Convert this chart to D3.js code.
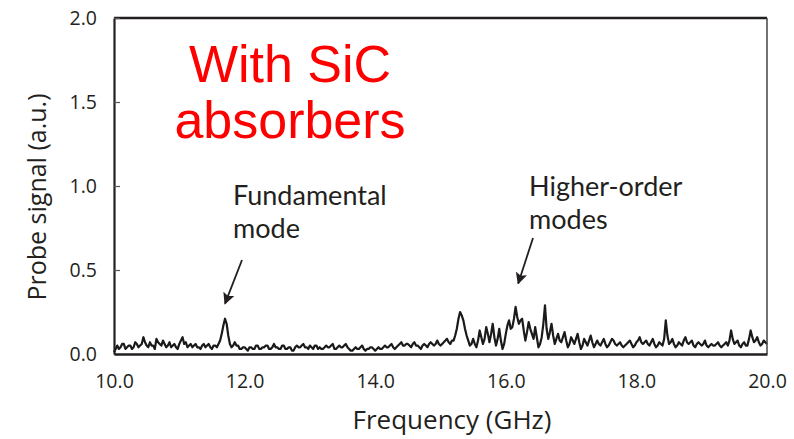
<!DOCTYPE html>
<html>
<head>
<meta charset="utf-8">
<script src="https://cdn.jsdelivr.net/npm/d3@7/dist/d3.min.js"></script>
<style>
  html, body { margin: 0; padding: 0; background: #fff; }
  svg { display: block; }
  text { font-family: "Open Sans", "Noto Sans", sans-serif; fill: #231f20; }
</style>
</head>
<body>
<svg id="chart" width="794" height="439"></svg>
<script>
// Probe signal sampled every 0.025 GHz from 10.0 to 20.0 GHz (one row = 0.5 GHz)
const freqStart = 10.0;
const freqStep = 0.025;
const signal = [
  0.01,0.03,0.05,0.03,0.04,0.06,0.06,0.03,0.04,0.05,0.05,0.03,0.04,0.07,0.06,0.04,0.05,0.06,0.10,0.07,
  0.05,0.04,0.07,0.05,0.05,0.03,0.09,0.07,0.06,0.05,0.08,0.06,0.04,0.05,0.07,0.04,0.05,0.06,0.04,0.03,
  0.06,0.08,0.10,0.06,0.07,0.04,0.05,0.06,0.04,0.05,0.06,0.04,0.04,0.03,0.05,0.06,0.04,0.05,0.06,0.04,
  0.03,0.05,0.05,0.04,0.06,0.08,0.12,0.17,0.21,0.18,0.11,0.06,0.04,0.05,0.07,0.05,0.05,0.03,0.03,0.04,
  0.04,0.03,0.02,0.04,0.04,0.03,0.03,0.05,0.05,0.03,0.03,0.04,0.04,0.05,0.05,0.03,0.03,0.04,0.06,0.04,
  0.04,0.03,0.03,0.05,0.05,0.03,0.03,0.04,0.04,0.02,0.02,0.04,0.05,0.04,0.04,0.05,0.06,0.04,0.04,0.03,
  0.05,0.04,0.03,0.05,0.05,0.03,0.04,0.03,0.03,0.04,0.05,0.04,0.04,0.05,0.06,0.03,0.03,0.04,0.05,0.04,
  0.04,0.05,0.06,0.04,0.03,0.02,0.02,0.03,0.04,0.03,0.03,0.04,0.05,0.03,0.02,0.03,0.03,0.04,0.04,0.03,
  0.02,0.03,0.04,0.03,0.03,0.04,0.05,0.04,0.04,0.05,0.06,0.04,0.03,0.04,0.05,0.06,0.07,0.05,0.05,0.06,
  0.06,0.05,0.04,0.06,0.07,0.05,0.05,0.04,0.03,0.05,0.06,0.05,0.04,0.06,0.07,0.06,0.05,0.06,0.08,0.06,
  0.05,0.06,0.07,0.08,0.09,0.07,0.06,0.08,0.08,0.11,0.15,0.21,0.25,0.23,0.20,0.15,0.11,0.08,0.05,0.06,
  0.09,0.06,0.04,0.08,0.14,0.10,0.06,0.09,0.16,0.12,0.07,0.12,0.18,0.10,0.05,0.09,0.15,0.08,0.03,0.06,
  0.12,0.17,0.20,0.15,0.16,0.21,0.28,0.22,0.18,0.20,0.21,0.14,0.08,0.13,0.19,0.15,0.12,0.09,0.16,0.10,
  0.04,0.06,0.10,0.18,0.29,0.15,0.09,0.13,0.18,0.11,0.06,0.09,0.12,0.08,0.07,0.10,0.13,0.08,0.04,0.06,
  0.10,0.08,0.06,0.09,0.12,0.07,0.03,0.05,0.09,0.07,0.05,0.08,0.11,0.07,0.04,0.06,0.08,0.06,0.05,0.07,
  0.09,0.06,0.04,0.05,0.07,0.09,0.08,0.06,0.05,0.06,0.07,0.05,0.04,0.05,0.06,0.07,0.08,0.06,0.04,0.05,
  0.07,0.08,0.10,0.07,0.06,0.07,0.08,0.06,0.05,0.07,0.09,0.06,0.04,0.05,0.07,0.06,0.05,0.09,0.20,0.11,
  0.06,0.07,0.09,0.06,0.04,0.05,0.07,0.06,0.05,0.08,0.10,0.07,0.06,0.07,0.08,0.05,0.04,0.06,0.07,0.06,
  0.05,0.06,0.08,0.05,0.04,0.05,0.06,0.05,0.05,0.06,0.07,0.05,0.04,0.05,0.06,0.07,0.05,0.08,0.14,0.09,
  0.06,0.07,0.08,0.05,0.04,0.06,0.07,0.05,0.05,0.09,0.14,0.10,0.07,0.08,0.10,0.07,0.05,0.06,0.08,0.07,
  0.06
];

const xTicks = [10, 12, 14, 16, 18, 20];
const yTicks = [0, 0.5, 1.0, 1.5, 2.0];
const titleLines = ["With SiC", "absorbers"];
const annotations = [
  { lines: ["Fundamental", "mode"], freq: 11.70, value: 0.30 },
  { lines: ["Higher-order", "modes"], freq: 16.19, value: 0.42 }
];

const svg = d3.select("#chart");
const margin = { left: 114, right: 27, top: 18, bottom: 85 };
const W = 794, H = 439;

const x = d3.scaleLinear().domain([10, 20]).range([margin.left, W - margin.right]);
const y = d3.scaleLinear().domain([0, 2]).range([H - margin.bottom, margin.top]);

const points = signal.map((v, i) => [freqStart + i * freqStep, v]);

// Trace
svg.append("path")
  .datum(points)
  .attr("fill", "none")
  .attr("stroke", "#1a1a1a")
  .attr("stroke-width", 2.2)
  .attr("stroke-linejoin", "round")
  .attr("d", d3.line().x(d => x(d[0])).y(d => y(d[1])));

// Frame
const [x0, x1] = x.range();
const [y0, y1] = y.range();
svg.append("line").attr("x1", x0).attr("x2", x1).attr("y1", y1).attr("y2", y1)
  .attr("stroke", "#231f20").attr("stroke-width", 2.5);
svg.append("line").attr("x1", x1).attr("x2", x1).attr("y1", y1).attr("y2", y0)
  .attr("stroke", "#444").attr("stroke-width", 1.5);

// Y axis with inward ticks
const yAxis = svg.append("g")
  .attr("transform", `translate(${x0},0)`)
  .call(d3.axisLeft(y).tickValues(yTicks).tickFormat(d3.format(".1f")).tickSizeInner(-6).tickSizeOuter(0).tickPadding(17));
yAxis.select(".domain").attr("stroke", "#231f20").attr("stroke-width", 2.2);
yAxis.selectAll(".tick line").attr("stroke", "#555").attr("stroke-width", 1.2);
yAxis.selectAll(".tick text").attr("font-size", 19.5).attr("fill", "#231f20")
  .style("font-family", "'Open Sans', sans-serif");

// X axis (labels only)
const xAxis = svg.append("g")
  .attr("transform", `translate(0,${y0})`)
  .call(d3.axisBottom(x).tickValues(xTicks).tickFormat(d3.format(".1f")).tickSize(0).tickPadding(20));
xAxis.select(".domain").attr("stroke", "#231f20").attr("stroke-width", 2.5);
xAxis.selectAll(".tick text").attr("font-size", 19.5).attr("fill", "#231f20")
  .style("font-family", "'Open Sans', sans-serif");

// Axis titles
svg.append("text")
  .attr("x", 452)
  .attr("y", 429)
  .attr("text-anchor", "middle")
  .attr("font-size", 26)
  .text("Frequency (GHz)");

svg.append("text")
  .attr("transform", `translate(46,197) rotate(-90)`)
  .attr("text-anchor", "middle")
  .attr("font-size", 25)
  .text("Probe signal (a.u.)");

// Red heading
svg.append("g").selectAll("text")
  .data(titleLines)
  .join("text")
  .attr("x", 290)
  .attr("y", (d, i) => 82 + i * 56)
  .attr("text-anchor", "middle")
  .style("font-family", "'Liberation Sans', Arial, sans-serif")
  .style("fill", "#ff0000")
  .attr("font-size", 52)
  .text(d => d);

// Annotations with arrows
const defs = svg.append("defs");
defs.append("marker")
  .attr("id", "head")
  .attr("viewBox", "0 0 10 10")
  .attr("refX", 9).attr("refY", 5)
  .attr("markerWidth", 6.5).attr("markerHeight", 6.5)
  .attr("orient", "auto")
  .append("path").attr("d", "M0,0 L10,5 L0,10 L2,5 Z").attr("fill", "#231f20");

const ann = [
  { a: annotations[0], tx: 233, ty: 205, lx1: 242, ly1: 260 },
  { a: annotations[1], tx: 529, ty: 196, lx1: 533, ly1: 238 }
];
ann.forEach(o => {
  svg.append("g").selectAll("text")
    .data(o.a.lines)
    .join("text")
    .attr("x", o.tx)
    .attr("y", (d, i) => o.ty + i * 33)
    .attr("font-size", 27)
    .style("font-family", "Lato, 'Open Sans', sans-serif")
    .text(d => d);
  svg.append("line")
    .attr("x1", o.lx1).attr("y1", o.ly1)
    .attr("x2", x(o.a.freq)).attr("y2", y(o.a.value))
    .attr("stroke", "#231f20").attr("stroke-width", 1.8)
    .attr("marker-end", "url(#head)");
});
</script>
</body>
</html>
